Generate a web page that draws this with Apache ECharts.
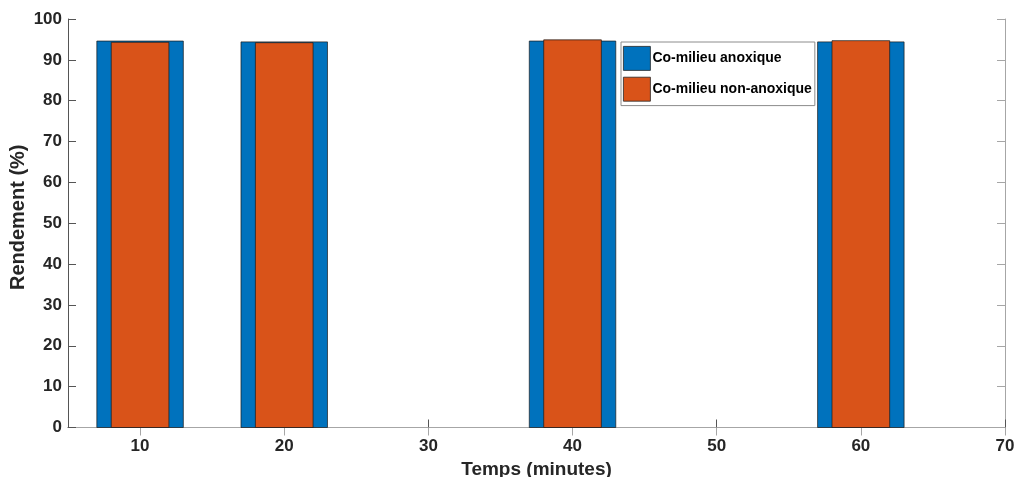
<!DOCTYPE html>
<html>
<head>
<meta charset="utf-8">
<script src="https://cdn.jsdelivr.net/npm/echarts@6/dist/echarts.min.js"></script>
<style>
html,body{margin:0;padding:0;background:#fff;}
#c{width:1016px;height:477px;}
</style>
</head>
<body>
<div id="c"></div>
<script>
// Data
const times = [10, 20, 40, 60];
const anoxique = [94.6, 94.4, 94.6, 94.4];
const nonAnoxique = [94.3, 94.2, 94.9, 94.7];
const xTicks = [10, 20, 30, 40, 50, 60, 70];
const seriesNames = ['Co-milieu anoxique', 'Co-milieu non-anoxique'];

const FONT = 'Liberation Sans, Arial, Helvetica, sans-serif';
const AX = '#262626';

function barRenderer(width) {
  return function (params, api) {
    const x = api.value(0), y = api.value(1);
    const a = api.coord([x - width / 2, y]);
    const b = api.coord([x + width / 2, 0]);
    return {
      type: 'rect',
      shape: { x: a[0], y: a[1], width: b[0] - a[0], height: b[1] - a[1] },
      style: { fill: api.visual('color'), stroke: '#1a1a1a', lineWidth: 0.7 }
    };
  };
}

const chart = echarts.init(document.getElementById('c'), null, { renderer: 'canvas' });
chart.setOption({
  animation: false,
  backgroundColor: '#fff',
  textStyle: { fontFamily: FONT },
  grid: { left: 68, top: 19, right: 11, bottom: 49.5, containLabel: false, outerBoundsMode: 'none' },
  legend: {
    orient: 'vertical',
    left: 621, top: 42,
    data: seriesNames,
    itemWidth: 27, itemHeight: 24, itemGap: 6,
    padding: [4, 3, 4, 2],
    borderColor: '#8c8c8c', borderWidth: 1,
    backgroundColor: '#fff',
    icon: 'rect',
    itemStyle: { borderColor: '#262626', borderWidth: 0.8 },
    textStyle: { fontFamily: FONT, fontSize: 14, fontWeight: 'bold', color: '#000', padding: [0, 0, 0, -3] }
  },
  xAxis: [{
    type: 'value', min: 5, max: 70, position: 'bottom',
    name: 'Temps (minutes)', nameLocation: 'middle', nameGap: 33, nameMoveOverlap: false,
    nameTextStyle: { fontFamily: FONT, fontSize: 19, fontWeight: 'bold', color: AX },
    axisLine: { show: true, lineStyle: { color: '#555', width: 1 } },
    axisTick: { show: true, inside: true, length: 8, lineStyle: { color: '#555' }, customValues: xTicks },
    axisLabel: { fontFamily: FONT, fontSize: 17, fontWeight: 'bold', color: AX, margin: 10, customValues: xTicks },
    splitLine: { show: false }
  }, {
    type: 'value', min: 5, max: 70, position: 'top',
    axisLine: { show: true, lineStyle: { color: '#a6a6a6', width: 1 } },
    axisTick: { show: true, inside: true, length: 8, lineStyle: { color: '#a6a6a6' }, customValues: xTicks },
    axisLabel: { show: false },
    splitLine: { show: false }
  }],
  yAxis: [{
    type: 'value', min: 0, max: 100, interval: 10, position: 'left',
    name: 'Rendement (%)', nameLocation: 'middle', nameGap: 40, nameMoveOverlap: false,
    nameTextStyle: { fontFamily: FONT, fontSize: 20, fontWeight: 'bold', color: AX, padding: [0, 0, 0, 12] },
    axisLine: { show: true, lineStyle: { color: '#555', width: 1 } },
    axisTick: { show: true, inside: true, length: 8, lineStyle: { color: '#555' } },
    axisLabel: { fontFamily: FONT, fontSize: 17, fontWeight: 'bold', color: AX, margin: 6 },
    splitLine: { show: false }
  }, {
    type: 'value', min: 0, max: 100, interval: 10, position: 'right',
    axisLine: { show: true, lineStyle: { color: '#a6a6a6', width: 1 } },
    axisTick: { show: true, inside: true, length: 8, lineStyle: { color: '#a6a6a6' } },
    axisLabel: { show: false },
    splitLine: { show: false }
  }],
  series: [{
    name: seriesNames[0], type: 'custom', xAxisIndex: 0, yAxisIndex: 0,
    itemStyle: { color: '#0072BD' },
    renderItem: barRenderer(6),
    encode: { x: 0, y: 1 },
    data: times.map((t, i) => [t, anoxique[i]]),
    z: 2
  }, {
    name: seriesNames[1], type: 'custom', xAxisIndex: 0, yAxisIndex: 0,
    itemStyle: { color: '#D95319' },
    renderItem: barRenderer(4),
    encode: { x: 0, y: 1 },
    data: times.map((t, i) => [t, nonAnoxique[i]]),
    z: 3
  }]
});
</script>
</body>
</html>
